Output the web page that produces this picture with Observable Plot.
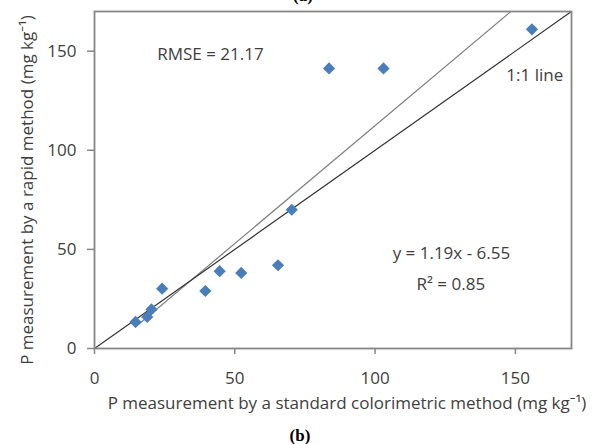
<!DOCTYPE html>
<html>
<head>
<meta charset="utf-8">
<script src="https://cdn.jsdelivr.net/npm/d3@7"></script>
<script src="https://cdn.jsdelivr.net/npm/@observablehq/plot@0.6"></script>
<style>
  html, body { margin: 0; padding: 0; background: #fff; }
  #chart svg { display: block; }
</style>
</head>
<body>
<div id="chart"></div>
<script>
// Data
const standardP = [14.6, 18.8, 20.3, 24.1, 39.5, 44.6, 52.3, 65.4, 70.3, 83.6, 103.0, 155.9];
const rapidP    = [13.4, 15.9, 19.7, 30.2, 29.0, 39.0, 38.1, 42.0, 70.0, 141.3, 141.3, 161.0];
const xTicks = [0, 50, 100, 150];
const yTicks = [0, 50, 100, 150];
const slope = 1.19;
const intercept = -6.55;
const annotations = [
  {x: 41.3, y: 148.4, text: "RMSE = 21.17"},
  {x: 156.9, y: 137.8, text: "1:1 line"},
  {x: 127.2, y: 47.8, text: "y = 1.19x - 6.55"},
  {x: 127.0, y: 32.5, text: "R² = 0.85"}
];
const xLabel = "P measurement by a standard colorimetric method (mg kg⁻¹)";
const yLabel = "P measurement by a rapid method (mg kg⁻¹)";

const points = standardP.map((x, i) => ({x, y: rapidP[i]}));
const xMin = d3.min(standardP), xMax = d3.max(standardP);
const fitLine = [xMin, xMax].map(x => ({x, y: slope * x + intercept}));
const oneToOne = [{x: 0, y: 0}, {x: 170, y: 170}];

const font = "'Open Sans', 'Noto Sans', sans-serif";
const textColor = "#404040";
const gray = "#868686";
const fs = 17;

const chart = Plot.plot({
  width: 595,
  height: 444,
  marginLeft: 94,
  marginRight: 24,
  marginTop: 11,
  marginBottom: 96,
  style: {fontFamily: font, fontSize: fs + "px", color: textColor, background: "#fff"},
  x: {domain: [0, 170], ticks: xTicks, label: null},
  y: {domain: [0, 170], ticks: yTicks, label: null},
  marks: [
    Plot.axisX({ticks: xTicks, tickSize: 6, tickPadding: 17, stroke: gray, strokeWidth: 1.5, fill: textColor, fontSize: fs}),
    Plot.axisY({ticks: yTicks, tickSize: 7, tickPadding: 11, stroke: gray, strokeWidth: 1.5, fill: textColor, fontSize: fs}),
    Plot.line(fitLine, {x: "x", y: "y", stroke: "#808080", strokeWidth: 1.2, clip: true}),
    Plot.line(oneToOne, {x: "x", y: "y", stroke: "#333333", strokeWidth: 1.2, clip: true}),
    Plot.dot(points, {x: "x", y: "y", symbol: "diamond2", r: 5.5, fill: "#4a7ebb", stroke: "none"}),
    Plot.frame({stroke: gray, strokeWidth: 1.8}),
    Plot.text(annotations, {x: "x", y: "y", text: "text", fill: textColor, fontSize: fs, textAnchor: "middle"}),
    Plot.text([xLabel], {frameAnchor: "bottom", dx: 14, dy: 55, fill: textColor, fontSize: fs, textAnchor: "middle", lineAnchor: "middle"}),
    Plot.text([yLabel], {frameAnchor: "left", rotate: -90, dx: -67, dy: 10, fill: textColor, fontSize: fs, textAnchor: "middle", lineAnchor: "middle"}),
    Plot.text(["(b)"], {frameAnchor: "bottom", dx: -33, dy: 87, fill: "#000", fontSize: 17, fontWeight: "bold", fontFamily: "'Liberation Serif', 'DejaVu Serif', serif", textAnchor: "middle", lineAnchor: "middle"}),
    Plot.text(["(a)"], {frameAnchor: "top", dx: -30, dy: -16, fill: "#000", fontSize: 17, fontWeight: "bold", fontFamily: "'Liberation Serif', 'DejaVu Serif', serif", textAnchor: "middle", lineAnchor: "middle"})
  ]
});
document.getElementById("chart").appendChild(chart);
</script>
</body>
</html>
